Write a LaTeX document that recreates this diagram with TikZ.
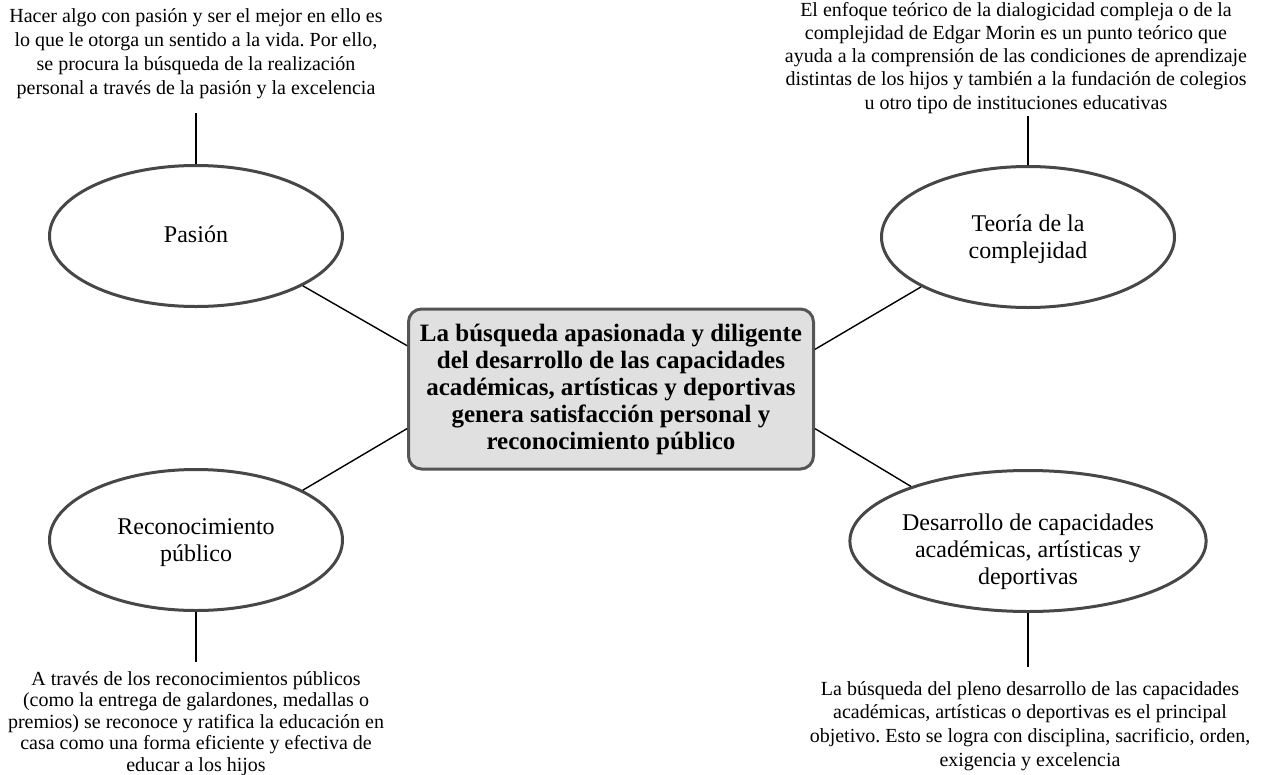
\documentclass[tikz,border=0pt]{standalone}
\usepackage{fontspec}
\setmainfont{Liberation Serif}
\usetikzlibrary{shapes.geometric}
\definecolor{boxfill}{HTML}{E0E0E0}
\definecolor{boxline}{HTML}{555555}
\definecolor{ellline}{HTML}{474747}
\newcommand{\elltxt}[2]{\raisebox{#1}[\height][\depth]{\begin{tabular}{@{}c@{}}#2\end{tabular}}}
\frenchspacing
\begin{document}
\begin{tikzpicture}[x=1pt,y=-1pt,
  ell/.style={ellipse, draw=ellline, line width=3pt, minimum width=293pt, minimum height=141pt, inner sep=0pt, align=center, font=\fontsize{24}{27}\selectfont},
  central/.style={rectangle, rounded corners=13pt, draw=boxline, fill=boxfill, line width=3pt, minimum width=405pt, minimum height=160pt, align=center, inner sep=0pt, font=\bfseries\fontsize{25}{27}\selectfont},
  desc/.style={anchor=north, inner sep=0pt, align=center},
  conn/.style={draw=black, line width=1.4pt},
]
\useasboundingbox (0,0) rectangle (1264,774);

\node[central] (box) at (611,389) {La búsqueda apasionada y diligente\\del desarrollo de las capacidades\\académicas, artísticas y deportivas\\genera satisfacción personal y\\reconocimiento público};

\node[ell] (pasion) at (196,236) {\elltxt{-1pt}{Pasión}};
\node[ell] (teoria) at (1028,237) {\elltxt{-3pt}{Teoría de la\\complejidad}};
\node[ell] (recon) at (196,540) {\elltxt{-3pt}{Reconocimiento\\público}};
\node[ell] (des) at (1028,541) {\elltxt{-11pt}{Desarrollo de capacidades\\académicas, artísticas y\\deportivas}};

\node[desc, font=\fontsize{20}{24}\selectfont] (tl) at (196,8.5) {Hacer algo con pasión y ser el mejor en ello es\\lo que le otorga un sentido a la vida. Por ello,\\se procura la búsqueda de la realización\\personal a través de la pasión y la excelencia};
\node[desc, font=\fontsize{20}{23.2}\selectfont] (tr) at (1016,2) {El enfoque teórico de la dialogicidad compleja o de la\\complejidad de Edgar Morin es un punto teórico que\\ayuda a la comprensión de las condiciones de aprendizaje\\distintas de los hijos y también a la fundación de colegios\\u otro tipo de instituciones educativas};
\node[desc, font=\fontsize{20}{21.5}\selectfont] (bl) at (196,671) {A través de los reconocimientos públicos\\(como la entrega de galardones, medallas o\\premios) se reconoce y ratifica la educación en\\casa como una forma eficiente y efectiva de\\educar a los hijos};
\node[desc, font=\fontsize{20}{23.7}\selectfont] (br) at (1030,681) {La búsqueda del pleno desarrollo de las capacidades\\académicas, artísticas o deportivas es el principal\\objetivo. Esto se logra con disciplina, sacrificio, orden,\\exigencia y excelencia};

\coordinate (pasT) at (196,113);
\coordinate (teoT) at (1028,116);
\coordinate (recB) at (196,662);
\coordinate (desB) at (1028,667);

\draw[conn] (pasion.north) -- (pasT);
\draw[conn] (teoria.north) -- (teoT);
\draw[conn] (recon.south) -- (recB);
\draw[conn] (des.south) -- (desB);

\draw[conn] (pasion.-25) -- (box.168.6);
\draw[conn] (recon.25) -- (box.191.4);
\draw[conn] (teoria.205) -- (box.11.4);
\draw[conn] (des.155) -- (box.-11.4);
\end{tikzpicture}
\end{document}
